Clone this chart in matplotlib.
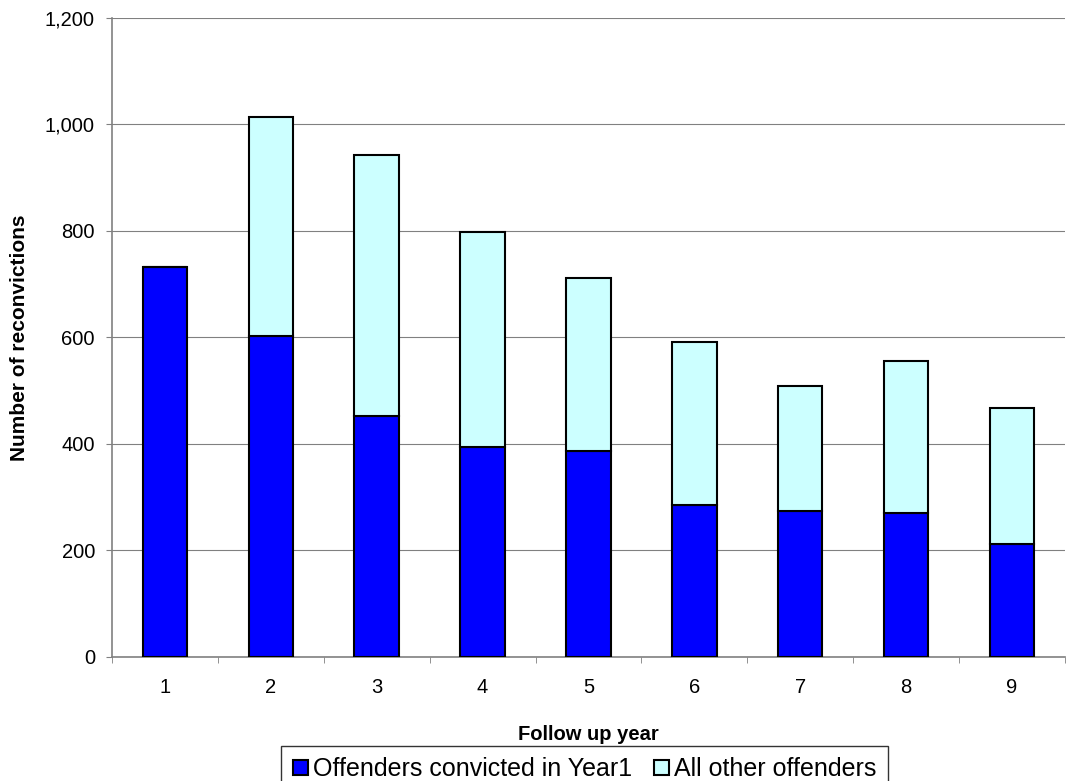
import matplotlib.pyplot as plt
from matplotlib.ticker import FuncFormatter, FixedLocator

years = ["1", "2", "3", "4", "5", "6", "7", "8", "9"]
year1_offenders = [732, 602, 453, 394, 387, 285, 275, 271, 212]
totals = [732, 1014, 942, 799, 711, 592, 509, 555, 468]
other_offenders = [t - b for t, b in zip(totals, year1_offenders)]

plt.rcParams['font.family'] = ['Liberation Sans', 'DejaVu Sans']

fig = plt.figure(figsize=(10.67, 7.81), dpi=100, facecolor='w')
ax = fig.add_axes([0.105, 0.1588, 0.893, 0.8182])

x = list(range(len(years)))
ax.bar(x, year1_offenders, width=0.42, color="#0000ff", edgecolor="black",
       linewidth=1.5, label="Offenders convicted in Year1", zorder=3)
ax.bar(x, other_offenders, width=0.42, bottom=year1_offenders,
       color="#ccffff", edgecolor="black", linewidth=1.5,
       label="All other offenders", zorder=3)

ax.set_xlim(-0.5, len(years) - 0.5)
ax.set_ylim(0, 1200)
ax.set_yticks(range(0, 1201, 200))
ax.yaxis.set_major_formatter(FuncFormatter(lambda v, p: f"{int(v):,}"))
ax.set_xticks(x)
ax.set_xticklabels(years)
ax.xaxis.set_minor_locator(FixedLocator([i + 0.5 for i in range(-1, len(years))]))
ax.tick_params(axis='x', which='major', length=0, labelsize=14.5, pad=15)
ax.tick_params(axis='x', which='minor', length=4, color='#808080', direction='out')
ax.tick_params(axis='y', length=4.3, color='#808080', labelsize=14.5, pad=8)

ax.grid(True, axis='y', color='#808080', linewidth=0.8, zorder=0)
for side in ['top', 'right']:
    ax.spines[side].set_visible(False)
for side in ['left', 'bottom']:
    ax.spines[side].set_color('#808080')
    ax.spines[side].set_linewidth(1.2)

ax.set_ylabel("Number of reconvictions", fontsize=15, fontweight='bold')
ax.yaxis.set_label_coords(-0.087, 0.5)
ax.set_xlabel("Follow up year", fontsize=14.5, fontweight='bold')
ax.xaxis.set_label_coords(0.5, -0.106)

leg = fig.legend(loc='upper center', bbox_to_anchor=(0.548, 1 - 746 / 781), ncol=2,
                 frameon=True, fancybox=False, edgecolor='black', fontsize=18,
                 handlelength=0.6, handleheight=0.6, handletextpad=0.2,
                 columnspacing=0.9, borderpad=0.45, borderaxespad=0)
leg.get_frame().set_linewidth(1.0)

plt.savefig("out.png", dpi=100)
